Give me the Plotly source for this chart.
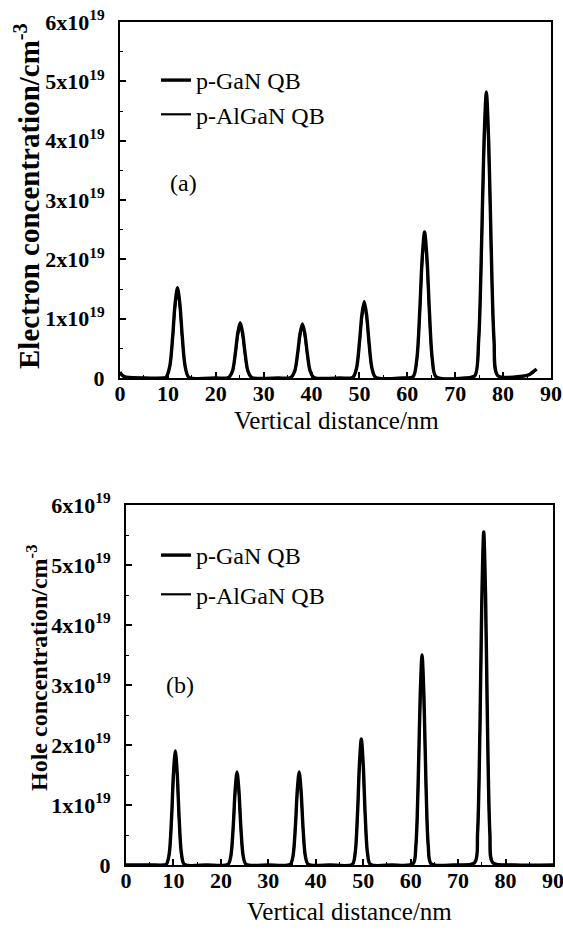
import plotly.graph_objects as go

W, H = 563, 931

# ---------------- data (concentration in units of 1e19 cm^-3) ----------------
# (a) electron concentration
e_x = [0.0, 0.4, 1.0, 2.0, 5.0, 9.0,
       9.6, 10.4, 11.0, 11.5, 12.0, 12.5, 13.0, 13.6, 14.4,
       20.0,
       22.7, 23.5, 24.1, 24.6, 25.1, 25.6, 26.1, 26.7, 27.5,
       33.0,
       35.7, 36.5, 37.1, 37.6, 38.1, 38.6, 39.1, 39.7, 40.5,
       46.0,
       48.6, 49.4, 50.0, 50.5, 51.0, 51.5, 52.0, 52.6, 53.4,
       59.0,
       61.2, 62.0, 62.6, 63.1, 63.6, 64.1, 64.6, 65.2, 66.0,
       72.0,
       74.1, 74.9, 75.5, 76.0, 76.5, 77.0, 77.5, 78.1, 78.9,
       84.0, 85.5, 86.5, 87.0]
e_gan = [0.10, 0.05, 0.02, 0.01, 0.0, 0.0,
         0.01, 0.20, 0.70, 1.25, 1.52, 1.25, 0.70, 0.20, 0.01,
         0.0,
         0.01, 0.12, 0.43, 0.76, 0.93, 0.76, 0.43, 0.12, 0.01,
         0.0,
         0.01, 0.12, 0.42, 0.75, 0.91, 0.75, 0.42, 0.12, 0.01,
         0.0,
         0.01, 0.17, 0.60, 1.06, 1.29, 1.06, 0.60, 0.17, 0.01,
         0.0,
         0.02, 0.33, 1.14, 2.02, 2.46, 2.02, 1.14, 0.33, 0.02,
         0.0,
         0.04, 0.65, 2.24, 3.96, 4.82, 3.96, 2.24, 0.65, 0.04,
         0.03, 0.06, 0.12, 0.15]
e_algan = [0.09, 0.05, 0.02, 0.01, 0.0, 0.0,
           0.01, 0.19, 0.66, 1.18, 1.44, 1.18, 0.66, 0.19, 0.01,
           0.0,
           0.01, 0.11, 0.40, 0.71, 0.87, 0.71, 0.40, 0.11, 0.01,
           0.0,
           0.01, 0.11, 0.40, 0.70, 0.86, 0.70, 0.40, 0.11, 0.01,
           0.0,
           0.01, 0.16, 0.57, 1.00, 1.22, 1.00, 0.57, 0.16, 0.01,
           0.0,
           0.02, 0.31, 1.08, 1.91, 2.33, 1.91, 1.08, 0.31, 0.02,
           0.0,
           0.04, 0.62, 2.13, 3.77, 4.60, 3.77, 2.13, 0.62, 0.04,
           0.03, 0.05, 0.11, 0.14]

# (b) hole concentration
h_x = [0.0, 5.0, 8.0,
       8.5, 9.1, 9.6, 10.0, 10.4, 10.8, 11.2, 11.7, 12.3,
       17.0,
       21.5, 22.1, 22.6, 23.0, 23.4, 23.8, 24.2, 24.7, 25.3,
       30.0,
       34.6, 35.2, 35.7, 36.1, 36.5, 36.9, 37.3, 37.8, 38.4,
       43.0,
       47.7, 48.3, 48.8, 49.2, 49.6, 50.0, 50.4, 50.9, 51.5,
       56.0,
       60.5, 61.1, 61.6, 62.0, 62.4, 62.8, 63.2, 63.7, 64.3,
       69.0,
       73.5, 74.1, 74.6, 75.0, 75.4, 75.8, 76.2, 76.7, 77.3,
       82.0, 90.0]
h_gan = [0.0, 0.0, 0.0,
         0.01, 0.18, 0.78, 1.52, 1.90, 1.52, 0.78, 0.18, 0.01,
         0.0,
         0.01, 0.15, 0.64, 1.24, 1.55, 1.24, 0.64, 0.15, 0.01,
         0.0,
         0.01, 0.15, 0.64, 1.24, 1.55, 1.24, 0.64, 0.15, 0.01,
         0.0,
         0.01, 0.20, 0.86, 1.68, 2.10, 1.68, 0.86, 0.20, 0.01,
         0.0,
         0.02, 0.33, 1.44, 2.80, 3.50, 2.80, 1.44, 0.33, 0.02,
         0.0,
         0.04, 0.53, 2.28, 4.44, 5.55, 4.44, 2.28, 0.53, 0.04,
         0.0, 0.0]
h_algan = [0.0, 0.0, 0.0,
           0.01, 0.17, 0.74, 1.44, 1.80, 1.44, 0.74, 0.17, 0.01,
           0.0,
           0.01, 0.14, 0.61, 1.18, 1.47, 1.18, 0.61, 0.14, 0.01,
           0.0,
           0.01, 0.14, 0.61, 1.18, 1.47, 1.18, 0.61, 0.14, 0.01,
           0.0,
           0.01, 0.19, 0.82, 1.60, 2.00, 1.60, 0.82, 0.19, 0.01,
           0.0,
           0.02, 0.31, 1.37, 2.66, 3.33, 2.66, 1.37, 0.31, 0.02,
           0.0,
           0.04, 0.50, 2.17, 4.22, 5.28, 4.22, 2.17, 0.50, 0.04,
           0.0, 0.0]

y_tickvals = [0, 1, 2, 3, 4, 5, 6]
y_ticktext = ["0", "1x10<sup>19</sup>", "2x10<sup>19</sup>", "3x10<sup>19</sup>",
              "4x10<sup>19</sup>", "5x10<sup>19</sup>", "6x10<sup>19</sup>"]
x_tickvals = [0, 10, 20, 30, 40, 50, 60, 70, 80, 90]
x_ticktext = [str(v) for v in x_tickvals]
series_names = ["p-GaN QB", "p-AlGaN QB"]

FONT = "Liberation Serif"

def px_x(p):
    return p / W

def px_y(p):
    return 1 - p / H

fig = go.Figure()

# top panel
fig.add_trace(go.Scatter(x=e_x, y=e_gan, mode="lines", name=series_names[0],
                         line=dict(color="black", width=3.4, shape="spline", smoothing=0.8),
                         xaxis="x", yaxis="y", legend="legend", legendgroup="a1"))
fig.add_trace(go.Scatter(x=e_x, y=e_algan, mode="lines", name=series_names[1],
                         line=dict(color="black", width=2.2, shape="spline", smoothing=0.8),
                         xaxis="x", yaxis="y", legend="legend", legendgroup="a2"))
# bottom panel
fig.add_trace(go.Scatter(x=h_x, y=h_gan, mode="lines", name=series_names[0],
                         line=dict(color="black", width=3.4, shape="spline", smoothing=0.8),
                         xaxis="x2", yaxis="y2", legend="legend2", legendgroup="b1"))
fig.add_trace(go.Scatter(x=h_x, y=h_algan, mode="lines", name=series_names[1],
                         line=dict(color="black", width=2.2, shape="spline", smoothing=0.8),
                         xaxis="x2", yaxis="y2", legend="legend2", legendgroup="b2"))

tick_font = dict(family=FONT, size=22, color="black", weight="bold")
axis_common = dict(showline=True, linecolor="black", linewidth=2, mirror=True,
                   showgrid=False, zeroline=False, ticks="inside", ticklen=6,
                   tickwidth=1.5, tickcolor="black", tickfont=tick_font, automargin=False)

xcommon = dict(axis_common, range=[0, 90], tickmode="array", tickvals=x_tickvals,
               ticktext=x_ticktext, ticklabelstandoff=-5, ticklabeloverflow="allow",
               minor=dict(ticks="inside", dtick=5, ticklen=3, tickwidth=1.2, tickcolor="black"))
ycommon = dict(axis_common, range=[0, 6], tickmode="array", tickvals=y_tickvals,
               ticktext=y_ticktext, ticklabelstandoff=9,
               minor=dict(ticks="inside", dtick=0.5, ticklen=3, tickwidth=1.2, tickcolor="black"))

leg_font = dict(family=FONT, size=24, color="black")
fig.update_layout(
    width=W, height=H,
    margin=dict(l=0, r=0, t=0, b=0, autoexpand=False),
    paper_bgcolor="white", plot_bgcolor="white",
    font=dict(family=FONT, color="black"),
    xaxis=dict(xcommon, domain=[px_x(120), px_x(551)], anchor="y"),
    yaxis=dict(ycommon, domain=[px_y(378), px_y(22)], anchor="x"),
    xaxis2=dict(xcommon, domain=[px_x(126), px_x(553)], anchor="y2"),
    yaxis2=dict(ycommon, domain=[px_y(865), px_y(505)], anchor="x2"),
    legend=dict(x=px_x(156), y=px_y(58), xanchor="left", yanchor="top",
                bgcolor="rgba(0,0,0,0)", font=leg_font, tracegroupgap=0, itemwidth=30),
    legend2=dict(x=px_x(156), y=px_y(533), xanchor="left", yanchor="top",
                 bgcolor="rgba(0,0,0,0)", font=leg_font, tracegroupgap=5, itemwidth=30),
    showlegend=True,
)

ann_font = dict(family=FONT, size=24, color="black")
fig.add_annotation(text="(a)", x=13.2, y=3.29, xref="x", yref="y", showarrow=False,
                   xanchor="center", yanchor="middle", font=ann_font)
fig.add_annotation(text="(b)", x=11.4, y=3.0, xref="x2", yref="y2", showarrow=False,
                   xanchor="center", yanchor="middle", font=ann_font)

fig.add_annotation(text="Vertical distance/nm", x=px_x(336), y=px_y(420), xref="paper", yref="paper",
                   showarrow=False, xanchor="center", yanchor="middle",
                   font=dict(family=FONT, size=25, color="black"))
fig.add_annotation(text="Vertical distance/nm", x=px_x(349), y=px_y(911), xref="paper", yref="paper",
                   showarrow=False, xanchor="center", yanchor="middle",
                   font=dict(family=FONT, size=25, color="black"))
fig.add_annotation(text="<b>Electron concentration/cm<sup>-3</sup></b>", x=px_x(27), y=px_y(196),
                   xref="paper", yref="paper", showarrow=False, textangle=-90,
                   xanchor="center", yanchor="middle",
                   font=dict(family=FONT, size=29, color="black"))
fig.add_annotation(text="<b>Hole concentration/cm<sup>-3</sup></b>", x=px_x(37), y=px_y(668),
                   xref="paper", yref="paper", showarrow=False, textangle=-90,
                   xanchor="center", yanchor="middle",
                   font=dict(family=FONT, size=24, color="black"))

fig.write_html("out.html", config=dict(displayModeBar=False),
               post_script="document.body.style.margin='0px';document.body.style.overflow='hidden';")
